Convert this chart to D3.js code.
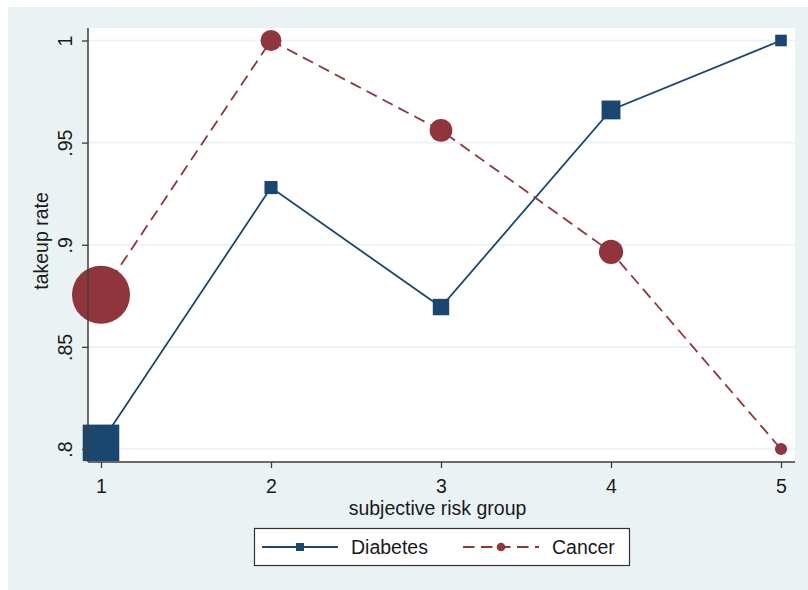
<!DOCTYPE html>
<html>
<head>
<meta charset="utf-8">
<script src="https://cdn.jsdelivr.net/npm/d3@7"></script>
<style>
  html, body { margin: 0; padding: 0; background: #ffffff; }
  svg { display: block; }
  text { font-family: "Liberation Sans", Arial, sans-serif; fill: #1a1a1a; }
</style>
</head>
<body>
<svg id="chart" width="808" height="590"></svg>
<script>
// Risk groups on the x axis
const riskGroups = [1, 2, 3, 4, 5];

// Take-up rate by subjective risk group
const diabetesRate = [0.803, 0.928, 0.8695, 0.966, 1.0];
const cancerRate   = [0.8755, 1.0, 0.956, 0.8965, 0.80];

// Relative group weights (marker area is proportional to weight)
const diabetesWeight = [109, 14, 22, 29, 11];
const cancerWeight   = [275, 36, 42, 48, 12];

// Axis ticks
const yTicks = [0.8, 0.85, 0.9, 0.95, 1];
const yTickLabels = [".8", ".85", ".9", ".95", "1"];
const xTickLabels = ["1", "2", "3", "4", "5"];

const seriesNames = ["Diabetes", "Cancer"];

// ---- layout & style ----
const W = 808, H = 590;
const plot = { left: 88, right: 795, top: 28, bottom: 462 };
const bgColor = "#eaf2f3";
const diabetesColor = "#1a476f";
const cancerColor = "#90353b";
const axisColor = "#3c3c3c";
const fontSize = 19.5;
const dashPattern = "11.5,6.5";

const svg = d3.select("#chart");

// Outer graph region
svg.append("rect")
  .attr("x", 8).attr("y", 7)
  .attr("width", W - 8).attr("height", H - 7)
  .attr("fill", bgColor);

// Plot region
svg.append("rect")
  .attr("x", plot.left).attr("y", plot.top)
  .attr("width", plot.right - plot.left).attr("height", plot.bottom - plot.top)
  .attr("fill", "#ffffff");

const x = d3.scaleLinear().domain([1, 5]).range([101, 781]);
const y = d3.scaleLinear().domain([0.8, 1]).range([449, 40.5]);
const markerSize = d3.scaleSqrt().domain([0, 1]).range([0, 3.5]);

// Horizontal grid lines
svg.append("g")
  .selectAll("line")
  .data(yTicks)
  .join("line")
  .attr("x1", plot.left).attr("x2", plot.right)
  .attr("y1", d => y(d)).attr("y2", d => y(d))
  .attr("stroke", bgColor)
  .attr("stroke-width", 1.6);

// Series lines
const lineGen = d3.line().x(d => x(d[0])).y(d => y(d[1]));

const diabetesPts = riskGroups.map((g, i) => [g, diabetesRate[i], diabetesWeight[i]]);
const cancerPts = riskGroups.map((g, i) => [g, cancerRate[i], cancerWeight[i]]);

svg.append("path")
  .datum(diabetesPts)
  .attr("d", lineGen)
  .attr("fill", "none")
  .attr("stroke", diabetesColor)
  .attr("stroke-width", 1.8);

svg.append("g")
  .selectAll("rect")
  .data(diabetesPts)
  .join("rect")
  .attr("x", d => x(d[0]) - markerSize(d[2]) / 2)
  .attr("y", d => y(d[1]) - markerSize(d[2]) / 2)
  .attr("width", d => markerSize(d[2]))
  .attr("height", d => markerSize(d[2]))
  .attr("fill", diabetesColor);

svg.append("path")
  .datum(cancerPts)
  .attr("d", lineGen)
  .attr("fill", "none")
  .attr("stroke", cancerColor)
  .attr("stroke-width", 1.8)
  .attr("stroke-dasharray", dashPattern);

svg.append("g")
  .selectAll("circle")
  .data(cancerPts)
  .join("circle")
  .attr("cx", d => x(d[0]))
  .attr("cy", d => y(d[1]))
  .attr("r", d => markerSize(d[2]) / 2)
  .attr("fill", cancerColor);

// Y axis
const yAxis = d3.axisLeft(y)
  .tickValues(yTicks)
  .tickFormat((d, i) => yTickLabels[i])
  .tickSize(6)
  .tickPadding(10);

const gy = svg.append("g")
  .attr("transform", `translate(${plot.left},0)`)
  .call(yAxis);
gy.select(".domain").remove();
gy.selectAll(".tick line").attr("stroke", axisColor).attr("stroke-width", 1.3);
gy.selectAll(".tick text")
  .attr("x", null).attr("dy", null)
  .attr("text-anchor", "middle")
  .attr("transform", "translate(-16,0) rotate(-90)")
  .style("font-size", fontSize + "px")
  .style("font-family", "'Liberation Sans', Arial, sans-serif")
  .attr("fill", "#1a1a1a");
svg.append("line")
  .attr("x1", plot.left).attr("x2", plot.left)
  .attr("y1", plot.top).attr("y2", plot.bottom)
  .attr("stroke", axisColor).attr("stroke-width", 1.5);

// X axis
const xAxis = d3.axisBottom(x)
  .tickValues(riskGroups)
  .tickFormat((d, i) => xTickLabels[i])
  .tickSize(6);

const gx = svg.append("g")
  .attr("transform", `translate(0,${plot.bottom})`)
  .call(xAxis);
gx.select(".domain").remove();
gx.selectAll(".tick line").attr("stroke", axisColor).attr("stroke-width", 1.3);
gx.selectAll(".tick text")
  .attr("y", 31).attr("dy", null)
  .style("font-size", fontSize + "px")
  .style("font-family", "'Liberation Sans', Arial, sans-serif")
  .attr("fill", "#1a1a1a");
svg.append("line")
  .attr("x1", plot.left).attr("x2", plot.right)
  .attr("y1", plot.bottom).attr("y2", plot.bottom)
  .attr("stroke", axisColor).attr("stroke-width", 1.5);

// Axis titles
svg.append("text")
  .attr("x", (plot.left + plot.right) / 2 - 4)
  .attr("y", 514.5)
  .attr("text-anchor", "middle")
  .style("font-size", fontSize + "px")
  .text("subjective risk group");

svg.append("text")
  .attr("transform", `translate(48,${(plot.top + plot.bottom) / 2 - 4}) rotate(-90)`)
  .attr("text-anchor", "middle")
  .style("font-size", fontSize + "px")
  .text("takeup rate");

// Legend
const legend = svg.append("g");
legend.append("rect")
  .attr("x", 254.5).attr("y", 528.5)
  .attr("width", 375).attr("height", 37)
  .attr("fill", "#ffffff")
  .attr("stroke", "#333333")
  .attr("stroke-width", 1.2);

const legendItems = [
  { name: seriesNames[0], color: diabetesColor, dash: null, shape: "square", x0: 262 },
  { name: seriesNames[1], color: cancerColor, dash: dashPattern, shape: "circle", x0: 463 }
];
const legendY = 547;
legendItems.forEach(it => {
  legend.append("line")
    .attr("x1", it.x0).attr("x2", it.x0 + 76)
    .attr("y1", legendY).attr("y2", legendY)
    .attr("stroke", it.color)
    .attr("stroke-width", 1.8)
    .attr("stroke-dasharray", it.dash);
  const cx = it.x0 + 38;
  if (it.shape === "square") {
    legend.append("rect")
      .attr("x", cx - 4).attr("y", legendY - 4)
      .attr("width", 8).attr("height", 8)
      .attr("fill", it.color);
  } else {
    legend.append("circle")
      .attr("cx", cx).attr("cy", legendY)
      .attr("r", 4.3)
      .attr("fill", it.color);
  }
  legend.append("text")
    .attr("x", it.x0 + 89)
    .attr("y", 554)
    .style("font-size", fontSize + "px")
    .text(it.name);
});
</script>
</body>
</html>
